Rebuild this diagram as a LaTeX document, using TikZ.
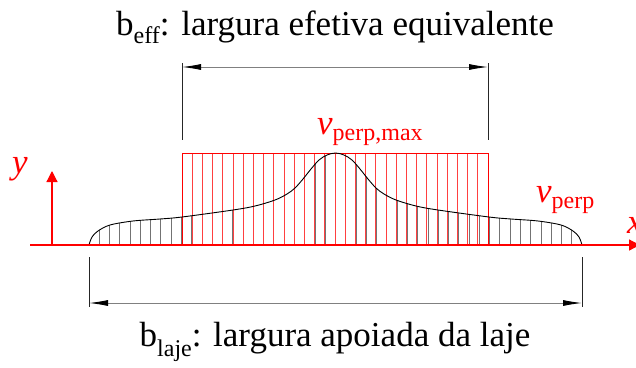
\documentclass[tikz,border=0pt]{standalone}
\usepackage{fontspec}
\setmainfont{Liberation Serif}
\newfontfamily\tnr{Liberation Serif}
\usetikzlibrary{arrows.meta}
\begin{document}
\begin{tikzpicture}[x=1pt,y=-1pt,
  dim/.style={draw=black!50, line width=0.9pt, {Latex[length=19pt,width=6pt,black]}-{Latex[length=19pt,width=6pt,black]}},
  ext/.style={draw=black!85, line width=0.9pt},
  axis/.style={draw=red, line width=1.2pt, -{Triangle[length=11pt,width=11pt]}},
  hatchk/.style={draw=black!55, line width=0.8pt},
  hatchr/.style={draw=red!75, line width=0.7pt},
  curve/.style={draw=black, line width=0.9pt},
  lbl/.style={font=\tnr\fontsize{35}{40}\selectfont, inner sep=0pt},
  rlbl/.style={text=red, font=\tnr\fontsize{35}{40}\selectfont, inner sep=0pt}]
\useasboundingbox (0,0) rectangle (636,367);
% hatching under the curve
\begin{scope}
  \clip (89,245) -- plot[smooth, tension=0.55] coordinates {(89,245) (92,237) (98,231) (110,225) (133,221) (160,219) (182,217) (233,210) (255,206) (275,200) (287,194) (295,188) (303,179) (311,169) (319,160) (327,155) (335.5,153) (344,155) (352,160) (360,169) (368,179) (376,188) (384,194) (396,200) (416,206) (438,210) (489,217) (511,219) (538,221) (561,225) (573,231) (579,237) (582,245)} -- cycle;
  \foreach \i in {0,...,48} \draw[hatchk] (89+\i*10.2708,246) -- ++(0,-100);
\end{scope}
% equivalent rectangle
\foreach \i in {0,...,30} \draw[hatchr] (182+\i*10.2,245) -- ++(0,-92);
\draw[draw=red, line width=0.8pt] (182,245) rectangle (488,153);
% curve
\draw[curve] plot[smooth, tension=0.55] coordinates {(89,245) (92,237) (98,231) (110,225) (133,221) (160,219) (182,217) (233,210) (255,206) (275,200) (287,194) (295,188) (303,179) (311,169) (319,160) (327,155) (335.5,153) (344,155) (352,160) (360,169) (368,179) (376,188) (384,194) (396,200) (416,206) (438,210) (489,217) (511,219) (538,221) (561,225) (573,231) (579,237) (582,245)};
% axes
\coordinate (xs) at (30,245);
\coordinate (xe) at (640,245);
\coordinate (ys) at (52,245);
\coordinate (ye) at (52,171);
\draw[axis] (xs) -- (xe);
\draw[axis] (ys) -- (ye);
\node[rlbl, anchor=base west, font=\tnr\fontsize{35}{40}\selectfont\itshape] (ylab) at (12,173) {y};
\node[rlbl, anchor=base west, font=\tnr\fontsize{35}{40}\selectfont\itshape] (xlab) at (627,233) {x};
% top dimension
\coordinate (t1) at (182,63);
\coordinate (t2) at (488,63);
\coordinate (t1b) at (182,140);
\coordinate (t2b) at (488,140);
\draw[ext] (t1) -- (t1b);
\draw[ext] (t2) -- (t2b);
\draw[dim] ([yshift=-4pt]t1) -- ([yshift=-4pt]t2);
% bottom dimension
\coordinate (b1) at (89,257);
\coordinate (b2) at (582,257);
\coordinate (b1b) at (89,307);
\coordinate (b2b) at (582,307);
\draw[ext] (b1) -- (b1b);
\draw[ext] (b2) -- (b2b);
\draw[dim] ([yshift=4pt]b1b) -- ([yshift=4pt]b2b);
% labels
\node[lbl, anchor=base] (beff) at (335,35) {b\raisebox{-8pt}{\fontsize{24}{24}\selectfont eff}: largura efetiva equivalente};
\node[lbl, anchor=base] (blaje) at (335,346) {b\raisebox{-10pt}{\fontsize{24}{24}\selectfont laje}: largura apoiada da laje};
\node[rlbl, anchor=base west] (vmax) at (317,134) {\textit{v}\raisebox{-6pt}{\fontsize{24}{24}\selectfont perp,max}};
\node[rlbl, anchor=base west] (vp) at (536,202) {\textit{v}\raisebox{-6pt}{\fontsize{24}{24}\selectfont perp}};
\end{tikzpicture}
\end{document}
